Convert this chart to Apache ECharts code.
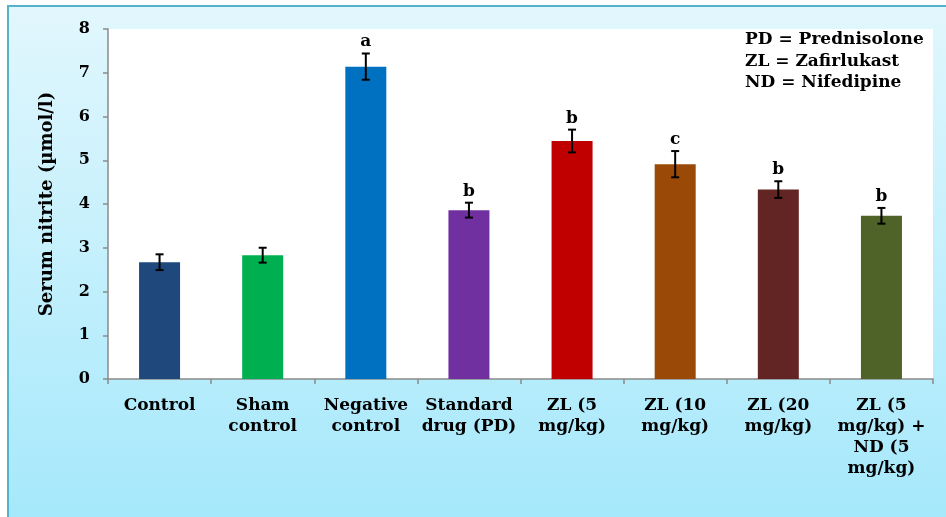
<!DOCTYPE html>
<html>
<head>
<meta charset="utf-8">
<script src="https://cdn.jsdelivr.net/npm/echarts@6/dist/echarts.min.js"></script>
<style>
html,body{margin:0;padding:0;background:#fff;}
#chart{width:946px;height:517px;}
</style>
</head>
<body>
<div id="chart"></div>
<script>
const categories = ['Control', 'Sham\ncontrol', 'Negative\ncontrol', 'Standard\ndrug (PD)', 'ZL (5\nmg/kg)', 'ZL (10\nmg/kg)', 'ZL (20\nmg/kg)', 'ZL (5\nmg/kg) +\nND (5\nmg/kg)'];
const values = [2.67, 2.83, 7.14, 3.86, 5.44, 4.91, 4.33, 3.73];
const errors = [0.18, 0.17, 0.30, 0.17, 0.26, 0.30, 0.19, 0.18];
const letters = ['', '', 'a', 'b', 'b', 'c', 'b', 'b'];
const barColors = ['#1f497d', '#00b050', '#0070c0', '#7030a0', '#c00000', '#9a4a06', '#632523', '#4f6228'];
const notes = ['PD = Prednisolone', 'ZL = Zafirlukast', 'ND = Nifedipine'];
const yMin = 0, yMax = 8, yStep = 1;
const yTitle = 'Serum nitrite (µmol/l)';

const serif = '"DejaVu Serif", serif';
const chart = echarts.init(document.getElementById('chart'), null, {renderer: 'canvas'});

const option = {
  animation: false,
  backgroundColor: '#ffffff',
  graphic: [
    {
      type: 'rect', z: -100, silent: true,
      shape: {x: 8, y: 6, width: 946, height: 520},
      style: {
        fill: new echarts.graphic.LinearGradient(0, 0, 0, 1, [
          {offset: 0, color: '#e2f7fd'},
          {offset: 1, color: '#a4e8fb'}
        ]),
        stroke: '#55b3c9', lineWidth: 2
      }
    },
    {
      type: 'text', left: 745, top: 29, z: 10,
      style: {
        text: notes.join('\n'),
        font: 'bold 17px ' + serif,
        lineHeight: 21.5,
        fill: '#000'
      }
    }
  ],
  grid: {
    left: 108, right: 13, top: 29, bottom: 138,
    show: true, backgroundColor: '#ffffff', borderWidth: 0
  },
  xAxis: {
    type: 'category',
    data: categories,
    axisLine: {lineStyle: {color: '#8a8a8a', width: 1.5}},
    axisTick: {show: true, length: 5, lineStyle: {color: '#8a8a8a', width: 1.5}},
    axisLabel: {
      interval: 0, margin: 16,
      fontFamily: serif, fontWeight: 'bold', fontSize: 17,
      lineHeight: 21, color: '#000'
    },
    splitLine: {show: false}
  },
  yAxis: {
    type: 'value', min: yMin, max: yMax, interval: yStep,
    name: yTitle, nameLocation: 'middle', nameGap: 52, nameRotate: 90,
    nameTextStyle: {fontFamily: serif, fontWeight: 'bold', fontSize: 18, color: '#000'},
    axisLine: {show: true, lineStyle: {color: '#8a8a8a', width: 1.5}},
    axisTick: {show: true, length: 5, lineStyle: {color: '#8a8a8a', width: 1.5}},
    axisLabel: {margin: 18, fontFamily: serif, fontWeight: 'bold', fontSize: 16, color: '#000'},
    splitLine: {show: false}
  },
  series: [
    {
      type: 'bar',
      barWidth: 41,
      data: values.map((v, i) => ({value: v, itemStyle: {color: barColors[i]}}))
    },
    {
      type: 'custom',
      z: 5,
      data: values.map((v, i) => [i, v, errors[i]]),
      encode: {x: 0, y: 1},
      renderItem: function (params, api) {
        const i = api.value(0), v = api.value(1), e = api.value(2);
        const top = api.coord([i, v + e]);
        const bot = api.coord([i, v - e]);
        const x = top[0], hw = 4;
        const ls = {stroke: '#000', lineWidth: 2};
        const children = [
          {type: 'line', shape: {x1: x, y1: top[1], x2: x, y2: bot[1]}, style: ls},
          {type: 'line', shape: {x1: x - hw, y1: top[1], x2: x + hw, y2: top[1]}, style: ls},
          {type: 'line', shape: {x1: x - hw, y1: bot[1], x2: x + hw, y2: bot[1]}, style: ls}
        ];
        const letter = letters[params.dataIndex];
        if (letter) {
          children.push({
            type: 'text',
            style: {
              text: letter, x: x, y: top[1] - 3,
              align: 'center', verticalAlign: 'bottom',
              font: 'bold 17px ' + serif, fill: '#000'
            }
          });
        }
        return {type: 'group', children: children};
      }
    }
  ]
};
chart.setOption(option);
</script>
</body>
</html>
